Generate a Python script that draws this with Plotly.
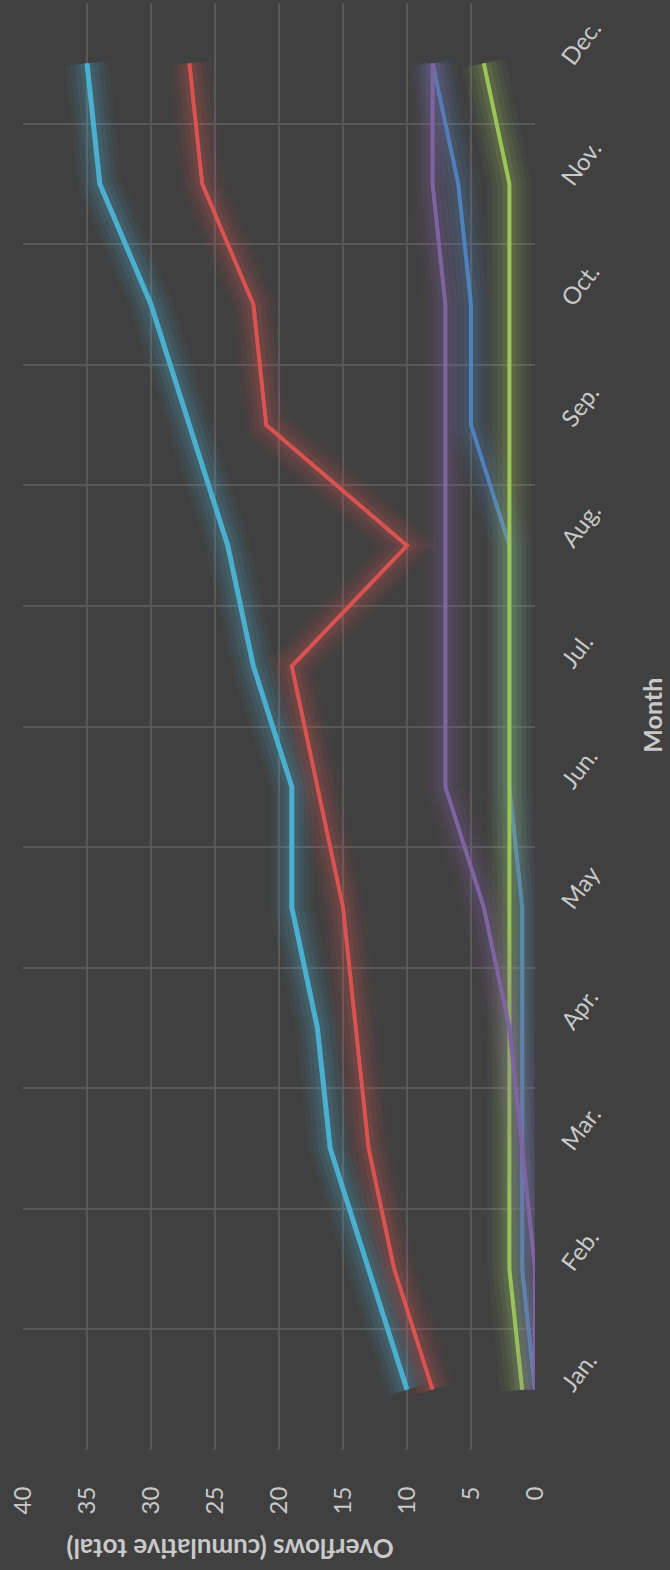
import plotly.graph_objects as go

months = ["Jan.", "Feb.", "Mar.", "Apr.", "May", "Jun.", "Jul.", "Aug.", "Sep.", "Oct.", "Nov.", "Dec."]
series_cyan = [10, 13, 16, 17, 19, 19, 22, 24, 27, 30, 34, 35]
series_red = [8, 11, 13, 14, 15, 17, 19, 10, 21, 22, 26, 27]
series_blue = [0, 1, 1, 1, 1, 2, 2, 2, 5, 5, 6, 8]
series_purple = [0, 0, 1, 2, 4, 7, 7, 7, 7, 7, 8, 8]
series_green = [1, 2, 2, 2, 2, 2, 2, 2, 2, 2, 2, 4]
value_ticks = [0, 5, 10, 15, 20, 25, 30, 35, 40]

# drawing order: blue, red, green, purple, cyan (cyan on top)
series = [
    (series_blue, (79, 129, 189), 4),
    (series_red, (217, 83, 80), 4),
    (series_green, (155, 197, 89), 4),
    (series_purple, (128, 100, 162), 4),
    (series_cyan, (75, 176, 208), 5),
]

BG = "#404040"
GRID = "#595959"
TXT = "#c9c9c9"
FONT = "Lato, 'Open Sans', sans-serif"

fig = go.Figure()

for vals, (r, g, b), w in series:
    # glow layers
    for gw, op in [(44, 0.05), (34, 0.07), (24, 0.09), (14, 0.12)]:
        fig.add_trace(go.Scatter(
            x=vals, y=months, mode="lines",
            line=dict(color=f"rgba({r},{g},{b},{op})", width=gw),
            hoverinfo="skip", showlegend=False,
        ))
    fig.add_trace(go.Scatter(
        x=vals, y=months, mode="lines",
        line=dict(color=f"rgb({r},{g},{b})", width=w),
        showlegend=False,
    ))

fig.update_layout(
    width=670, height=1570,
    paper_bgcolor=BG, plot_bgcolor=BG,
    margin=dict(l=23, r=135, t=3, b=120, autoexpand=False),
    font=dict(family=FONT, color=TXT, size=24),
    showlegend=False,
)

fig.update_xaxes(
    range=[40, 0], tickvals=value_ticks, ticktext=[str(v) for v in value_ticks],
    tickangle=-90, side="bottom", showgrid=True, gridcolor=GRID, gridwidth=1.5,
    zeroline=False, showline=False,
    ticks="outside", ticklen=26, tickcolor="rgba(0,0,0,0)",
    tickfont=dict(family=FONT, color=TXT, size=24),
)
fig.update_yaxes(
    type="category", categoryorder="array", categoryarray=months,
    range=[-0.5, 11.5], side="right", tickson="boundaries",
    showgrid=True, gridcolor=GRID, gridwidth=1.5, zeroline=False, showline=False,
    ticks="", tickangle=-53, ticklabelstandoff=28,
    tickfont=dict(family=FONT, color=TXT, size=24),
)

fig.add_annotation(
    text="<b>Month</b>", xref="paper", yref="paper", x=1.228, y=0.508,
    xanchor="center", yanchor="middle", textangle=-90, showarrow=False,
    font=dict(family=FONT, color=TXT, size=25),
)
fig.add_annotation(
    text="<b>Overflows (cumulative total)</b>", xref="paper", yref="paper",
    x=0.404, y=-0.068, xanchor="center", yanchor="middle", textangle=180,
    showarrow=False, font=dict(family=FONT, color=TXT, size=26),
)

fig.write_html(
    "out.html",
    config={"displayModeBar": False},
    post_script="document.body.style.margin='0';document.body.style.background='#404040';",
)
